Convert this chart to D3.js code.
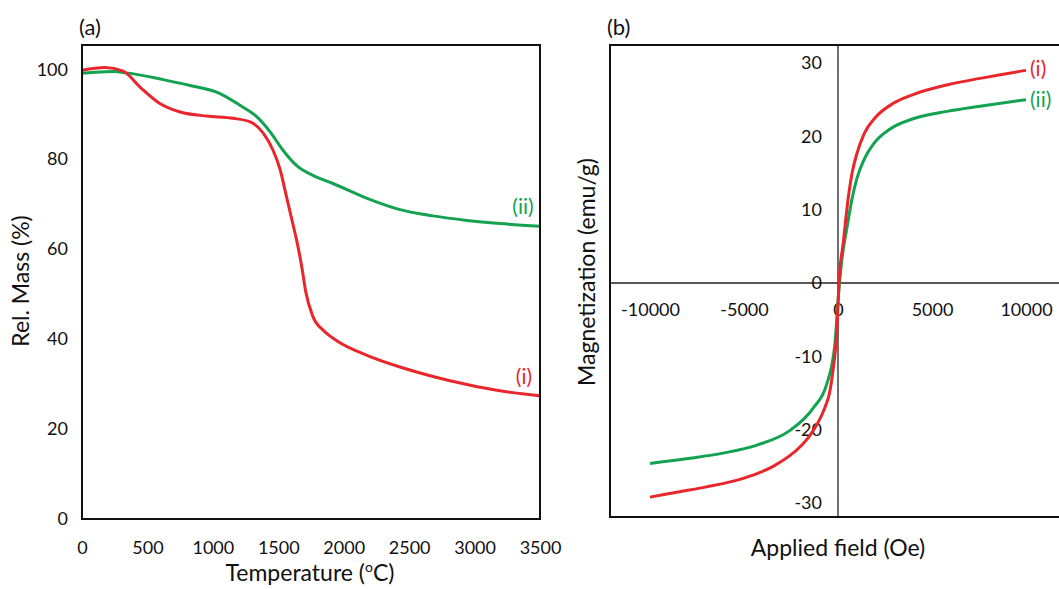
<!DOCTYPE html>
<html>
<head>
<meta charset="utf-8">
<script src="https://cdn.jsdelivr.net/npm/d3@7"></script>
<style>
  html, body { margin: 0; padding: 0; background: #fff; overflow: hidden; }
  svg { display: block; font-family: Lato, "Open Sans", sans-serif; }
</style>
</head>
<body>
<svg id="chart" width="1059" height="589"></svg>
<script>
// ---------- Data: panel (a) thermogravimetric curves ----------
const tgaTempRed = [0, 175, 315, 445, 595, 750, 955, 1155, 1285, 1385, 1460, 1515, 1560, 1600, 1640, 1680, 1710, 1765, 1850, 1950, 2178, 2430, 2682, 2942, 3194, 3500];
const tgaMassRed = [99.8, 100.4, 99.6, 96.0, 92.4, 90.5, 89.6, 89.1, 88.3, 85.8, 82.0, 77.6, 72.0, 67.0, 62.0, 56.0, 50.5, 45.0, 41.8, 39.6, 36.4, 33.8, 31.7, 29.9, 28.5, 27.4];
const tgaTempGreen = [0, 240, 340, 620, 825, 1055, 1207, 1337, 1437, 1536, 1643, 1780, 1918, 2178, 2430, 2682, 2942, 3194, 3500];
const tgaMassGreen = [99.1, 99.5, 99.2, 97.7, 96.4, 94.6, 92.0, 89.4, 86.1, 82.0, 78.5, 76.2, 74.6, 71.3, 68.8, 67.4, 66.4, 65.7, 65.1];
const tempTicks = [0, 500, 1000, 1500, 2000, 2500, 3000, 3500];
const massTicks = [0, 20, 40, 60, 80, 100];

// ---------- Data: panel (b) magnetization curves ----------
const fieldRed = [-10000, -8500, -7000, -5000, -3450, -2000, -1500, -1100, -700, -450, -270, -50, 50, 280, 540, 750, 1000, 1400, 2000, 2940, 4000, 5780, 7550, 10000];
const magRed = [-29.2, -28.5, -27.8, -26.6, -25.0, -22.3, -20.8, -19.2, -17.0, -15.0, -12.0, -6.0, 0.0, 5.5, 11.5, 15.0, 17.6, 20.4, 22.6, 24.5, 25.7, 27.0, 27.9, 29.0];
const fieldGreen = [-10000, -7870, -6120, -4310, -2550, -1330, -600, -160, 0, 200, 480, 750, 1000, 1400, 1900, 2770, 4000, 5800, 7550, 10000];
const magGreen = [-24.6, -23.9, -23.2, -22.1, -20.1, -17.1, -13.8, -8.2, -2.5, 3.1, 7.6, 11.5, 14.2, 16.9, 19.0, 21.0, 22.4, 23.4, 24.1, 25.0];
const fieldTicks = [-10000, -5000, 0, 5000, 10000];
const magTicks = [-30, -20, -10, 0, 10, 20, 30];

const seriesNames = ["(i)", "(ii)"];
const RED = "#e8262b", GREEN = "#13a24f";

const svg = d3.select("#chart");

// ================= Panel (a) =================
const A = { left: 82, right: 540, top: 45, bottom: 519 };
const xA = d3.scaleLinear().domain([0, 3500]).range([A.left, A.right]);
const yA = d3.scaleLinear().domain([0, 105.4]).range([A.bottom, A.top]);

svg.append("text").attr("x", 79).attr("y", 35).attr("font-size", 22).attr("fill", "#111").text("(a)");

const gxA = svg.append("g").attr("transform", `translate(0,${A.bottom})`)
  .call(d3.axisBottom(xA).tickValues(tempTicks).tickSize(0).tickPadding(22).tickFormat(d3.format("d")));
const gyA = svg.append("g").attr("transform", `translate(${A.left},0)`)
  .call(d3.axisLeft(yA).tickValues(massTicks).tickSize(0).tickPadding(14));
[gxA, gyA].forEach(g => {
  g.select(".domain").remove();
  g.selectAll("text").attr("font-size", 18).attr("font-family", "Lato, sans-serif").attr("fill", "#111");
});

const lineA = d3.line().x(d => xA(d[0])).y(d => yA(d[1])).curve(d3.curveMonotoneX);
svg.append("path").datum(d3.zip(tgaTempGreen, tgaMassGreen))
  .attr("d", lineA).attr("fill", "none").attr("stroke", GREEN).attr("stroke-width", 3);
svg.append("path").datum(d3.zip(tgaTempRed, tgaMassRed))
  .attr("d", lineA).attr("fill", "none").attr("stroke", RED).attr("stroke-width", 3);

svg.append("rect").attr("x", A.left).attr("y", A.top)
  .attr("width", A.right - A.left).attr("height", A.bottom - A.top)
  .attr("fill", "none").attr("stroke", "#111").attr("stroke-width", 2);

svg.append("text").attr("x", 523).attr("y", 214).attr("text-anchor", "middle")
  .attr("font-size", 21).attr("fill", GREEN).text(seriesNames[1]);
svg.append("text").attr("x", 524).attr("y", 384).attr("text-anchor", "middle")
  .attr("font-size", 21).attr("fill", RED).text(seriesNames[0]);

const tA = svg.append("text").attr("x", 310).attr("y", 581).attr("text-anchor", "middle")
  .attr("font-size", 23).attr("fill", "#111");
tA.append("tspan").text("Temperature (");
tA.append("tspan").attr("font-size", 14).attr("dy", -9).text("o");
tA.append("tspan").attr("dy", 9).text("C)");

svg.append("text").attr("transform", "translate(29,281) rotate(-90)")
  .attr("text-anchor", "middle").attr("font-size", 23).attr("fill", "#111").text("Rel. Mass (%)");

// ================= Panel (b) =================
const B = { left: 610, right: 1075, top: 45, bottom: 517 };
const pxPerOe = 94 / 5000;
const xB = d3.scaleLinear().domain([(B.left - 838) / pxPerOe, (B.right - 838) / pxPerOe]).range([B.left, B.right]);
const pxPerEmu = 220 / 30;
const yB = d3.scaleLinear().domain([(283 - B.bottom) / pxPerEmu, (283 - B.top) / pxPerEmu]).range([B.bottom, B.top]);

svg.append("text").attr("x", 607).attr("y", 35).attr("font-size", 22).attr("fill", "#111").text("(b)");

// zero axes
svg.append("line").attr("x1", B.left).attr("x2", B.right).attr("y1", yB(0)).attr("y2", yB(0))
  .attr("stroke", "#222").attr("stroke-width", 1.3);
svg.append("line").attr("x1", xB(0)).attr("x2", xB(0)).attr("y1", B.top).attr("y2", B.bottom)
  .attr("stroke", "#222").attr("stroke-width", 1.3);

const gxB = svg.append("g").attr("transform", `translate(0,${yB(0)})`)
  .call(d3.axisBottom(xB).tickValues(fieldTicks).tickSize(0).tickPadding(20).tickFormat(d3.format("d")));
const gyB = svg.append("g").attr("transform", `translate(${xB(0)},0)`)
  .call(d3.axisLeft(yB).tickValues(magTicks).tickSize(0).tickPadding(16).tickFormat(d3.format("d")));
[gxB, gyB].forEach(g => {
  g.select(".domain").remove();
  g.selectAll("text").attr("font-size", 18).attr("font-family", "Lato, sans-serif").attr("fill", "#111");
});
gxB.selectAll("text").text(d => d3.format("d")(d).replace("\u2212", "-"));
gyB.selectAll("text").text(d => d3.format("d")(d).replace("\u2212", "-"));

const lineB = d3.line().x(d => xB(d[0])).y(d => yB(d[1])).curve(d3.curveMonotoneX);
svg.append("path").datum(d3.zip(fieldGreen, magGreen))
  .attr("d", lineB).attr("fill", "none").attr("stroke", GREEN).attr("stroke-width", 3);
svg.append("path").datum(d3.zip(fieldRed, magRed))
  .attr("d", lineB).attr("fill", "none").attr("stroke", RED).attr("stroke-width", 3);

svg.append("rect").attr("x", B.left).attr("y", B.top)
  .attr("width", B.right - B.left).attr("height", B.bottom - B.top)
  .attr("fill", "none").attr("stroke", "#111").attr("stroke-width", 2);

svg.append("text").attr("x", xB(10000) + 4).attr("y", yB(29) + 6)
  .attr("font-size", 21).attr("fill", RED).text(seriesNames[0]);
svg.append("text").attr("x", xB(10000) + 4).attr("y", yB(25) + 7)
  .attr("font-size", 21).attr("fill", GREEN).text(seriesNames[1]);

svg.append("text").attr("x", 838).attr("y", 556).attr("text-anchor", "middle")
  .attr("font-size", 23).attr("fill", "#111").text("Applied field (Oe)");
svg.append("text").attr("transform", "translate(595,272) rotate(-90)")
  .attr("text-anchor", "middle").attr("font-size", 23).attr("fill", "#111").text("Magnetization (emu/g)");
</script>
</body>
</html>
